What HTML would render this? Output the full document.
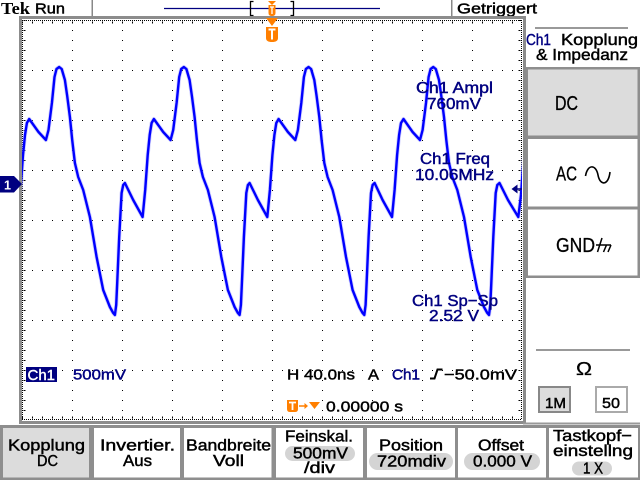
<!DOCTYPE html>
<html><head><meta charset="utf-8"><style>
html,body{margin:0;padding:0;background:#fff;}
svg{display:block;}
text{font-family:"Liberation Sans",sans-serif;}
</style></head><body>
<svg width="640" height="480" viewBox="0 0 640 480" xmlns="http://www.w3.org/2000/svg">
<rect width="640" height="480" fill="#fff"/>
<defs>
<clipPath id="c"><rect x="22" y="20" width="500" height="400"/></clipPath>
<path id="tr" d="M8.5,200 L17.9,217 L20.5,190 L23,155 L25,135 L26.9,123 L29.2,119 L38.5,132 L45.9,140 L48.5,130 L51.9,103 L54.5,77 L56.5,69 L59.2,67 L61.7,69 L64.9,80 L67.2,96 L69.9,117 L72.2,140 L74.9,163 L78.2,177 L83.2,190 L89.9,217 L96.6,257 L103.2,290 L109.9,307 L113.2,313 L114.9,315 L116.2,305 L117.2,283 L119.2,237 L121.6,193 L123.2,185 L124.9,183 L133.2,200 L142.6,217 L145.2,190 L147.7,155 L149.7,135 L151.6,123 L153.9,119 L163.2,132 L170.6,140 L173.2,130 L176.6,103 L179.2,77 L181.2,69 L183.9,67 L186.4,69 L189.6,80 L191.9,96 L194.6,117 L196.9,140 L199.6,163 L202.9,177 L207.9,190 L214.6,217 L221.3,257 L227.9,290 L234.6,307 L237.9,313 L239.6,315 L240.9,305 L241.9,283 L243.9,237 L246.3,193 L247.9,185 L249.6,183 L257.9,200 L267.3,217 L269.9,190 L272.4,155 L274.4,135 L276.3,123 L278.6,119 L287.9,132 L295.3,140 L297.9,130 L301.3,103 L303.9,77 L305.9,69 L308.6,67 L311.1,69 L314.3,80 L316.6,96 L319.3,117 L321.6,140 L324.3,163 L327.6,177 L332.6,190 L339.3,217 L346,257 L352.6,290 L359.3,307 L362.6,313 L364.3,315 L365.6,305 L366.6,283 L368.6,237 L371,193 L372.6,185 L374.6,183 L382.6,200 L392,217 L394.6,190 L397.1,155 L399.1,135 L401,123 L403.5,119 L412.6,132 L420,140 L422.6,130 L426,103 L428.6,77 L430.6,69 L433.3,67 L435.8,69 L439,80 L441.3,96 L444,117 L446.3,140 L449,163 L452.3,177 L457.3,190 L464,217 L470.7,257 L477.3,290 L484,307 L487.3,313 L489,315 L490.3,305 L491.3,283 L493.3,237 L495.7,193 L497.3,185 L499.5,183 L508,200 L518.3,217 L521,195 L523.5,160 L526,135"/>
</defs>

<!-- top bar -->
<text x="1" y="14" style="font-family:'Liberation Serif',serif;font-weight:bold;font-size:17px" textLength="29" lengthAdjust="spacingAndGlyphs">Tek</text>
<g stroke="#000" stroke-width="0.45">
<text x="35" y="13.5" font-size="15" textLength="30" lengthAdjust="spacingAndGlyphs">Run</text>
<text x="457" y="13.5" font-size="15" textLength="80" lengthAdjust="spacingAndGlyphs">Getriggert</text>
</g>
<rect x="91.5" y="0" width="1.5" height="16" fill="#888"/>
<rect x="451" y="0" width="1.5" height="16" fill="#888"/>
<line x1="164" y1="8.5" x2="380" y2="8.5" stroke="#000080" stroke-width="1.2"/>
<path d="M253.5,1.5 H250.5 V15.5 H253.5" fill="none" stroke="#000" stroke-width="1.3"/>
<path d="M290.5,1.5 H293.5 V15.5 H290.5" fill="none" stroke="#000" stroke-width="1.3"/>
<polygon points="268,1 276,1 272,5" fill="#ff7f00"/>
<path d="M268.5,5 H275.5 V13 Q275.5,16 272,16 Q268.5,16 268.5,13 Z" fill="#ff7f00"/>
<path d="M270,7 H274 M272,7 V14" stroke="#fff" stroke-width="1.3" fill="none"/>

<!-- graticule frame -->
<rect x="19" y="16" width="507" height="3" fill="#8c8c8c"/>
<rect x="19" y="16" width="3" height="408" fill="#8c8c8c"/>
<rect x="523" y="16" width="3" height="408" fill="#8c8c8c"/>
<rect x="19" y="421" width="507" height="3" fill="#8c8c8c"/>
<g stroke="#000" fill="none">
<line x1="22" y1="20.5" x2="522" y2="20.5" stroke-dasharray="1 1"/>
<line x1="22" y1="419.5" x2="522" y2="419.5" stroke-dasharray="1 1"/>
<line x1="22.5" y1="20" x2="22.5" y2="420" stroke-dasharray="1 1"/>
<line x1="521.5" y1="20" x2="521.5" y2="420" stroke-dasharray="1 1"/>
<line x1="22" y1="22.5" x2="522" y2="22.5" stroke-width="2" stroke-dasharray="1 9"/>
<line x1="22" y1="417.5" x2="522" y2="417.5" stroke-width="2" stroke-dasharray="1 9"/>
<line x1="24.5" y1="20" x2="24.5" y2="420" stroke-width="2" stroke-dasharray="1 9"/>
<line x1="519.5" y1="20" x2="519.5" y2="420" stroke-width="2" stroke-dasharray="1 9"/>
<g stroke-dasharray="1 9">
<line x1="72.5" y1="20" x2="72.5" y2="420"/>
<line x1="122.5" y1="20" x2="122.5" y2="420"/>
<line x1="172.5" y1="20" x2="172.5" y2="420"/>
<line x1="222.5" y1="20" x2="222.5" y2="420"/>
<line x1="272.5" y1="20" x2="272.5" y2="420"/>
<line x1="322.5" y1="20" x2="322.5" y2="420"/>
<line x1="372.5" y1="20" x2="372.5" y2="420"/>
<line x1="422.5" y1="20" x2="422.5" y2="420"/>
<line x1="472.5" y1="20" x2="472.5" y2="420"/>
<line x1="22" y1="70.5" x2="522" y2="70.5"/>
<line x1="22" y1="120.5" x2="522" y2="120.5"/>
<line x1="22" y1="170.5" x2="522" y2="170.5"/>
<line x1="22" y1="220.5" x2="522" y2="220.5"/>
<line x1="22" y1="270.5" x2="522" y2="270.5"/>
<line x1="22" y1="320.5" x2="522" y2="320.5"/>
<line x1="22" y1="370.5" x2="522" y2="370.5"/>
</g>
</g>

<!-- trigger marker in graticule -->
<polygon points="266,18 278,18 272,26" fill="#ff7f00"/>
<path d="M266,27 H278 V38 Q278,42 272,42 Q266,42 266,38 Z" fill="#ff7f00"/>
<path d="M268.5,29.5 H275.5 M272,29.5 V39.5" stroke="#fff" stroke-width="2" fill="none"/>

<!-- trace -->
<g clip-path="url(#c)" fill="none" stroke-linejoin="round" stroke-linecap="round">
<use href="#tr" stroke="#9a9aff" stroke-width="4" opacity="0.45"/>
<use href="#tr" stroke="#0000ff" stroke-width="2.4"/>
</g>

<!-- ch1 ground marker -->
<path d="M0,176 H14 L22,184 L14,192.5 H0 Z" fill="#000080"/>
<text x="4" y="189.5" fill="#fff" font-size="13" font-weight="bold" textLength="7" lengthAdjust="spacingAndGlyphs">1</text>
<!-- trigger level marker -->
<polygon points="511.5,189 517.5,184.5 517.5,193.5" fill="#000080"/>
<line x1="517" y1="189" x2="522" y2="189" stroke="#000080" stroke-width="1.5"/>

<!-- measurements -->
<g fill="#000080" stroke="#000080" stroke-width="0.45" font-size="16">
<text x="416" y="93" textLength="77" lengthAdjust="spacingAndGlyphs">Ch1 Ampl</text>
<text x="427" y="109" textLength="54" lengthAdjust="spacingAndGlyphs">760mV</text>
<text x="420" y="164" textLength="70" lengthAdjust="spacingAndGlyphs">Ch1 Freq</text>
<text x="415" y="180" textLength="79" lengthAdjust="spacingAndGlyphs">10.06MHz</text>
<text x="412" y="306" textLength="86" lengthAdjust="spacingAndGlyphs">Ch1 Sp−Sp</text>
<text x="429" y="321" textLength="50" lengthAdjust="spacingAndGlyphs">2.52 V</text>
</g>

<!-- status line -->
<rect x="26" y="367" width="31" height="15" fill="#000080"/>
<text x="27.5" y="380" fill="#fff" stroke="#fff" stroke-width="0.4" font-size="15" textLength="27.5" lengthAdjust="spacingAndGlyphs">Ch1</text>
<g font-size="15" stroke-width="0.45">
<text x="73" y="379.5" fill="#000080" stroke="#000080" textLength="53" lengthAdjust="spacingAndGlyphs">500mV</text>
<text x="287" y="379.5" stroke="#000" textLength="68" lengthAdjust="spacingAndGlyphs">H 40.0ns</text>
<text x="368" y="379.5" stroke="#000" textLength="11" lengthAdjust="spacingAndGlyphs">A</text>
<text x="392" y="379.5" fill="#000080" stroke="#000080" textLength="28" lengthAdjust="spacingAndGlyphs">Ch1</text>
<text x="444" y="379.5" stroke="#000" textLength="73" lengthAdjust="spacingAndGlyphs">−50.0mV</text>
<text x="326" y="411.5" stroke="#000" textLength="77" lengthAdjust="spacingAndGlyphs">0.00000 s</text>
</g>
<path d="M430,378.5 H434.5 L437.5,369.5 H442.5" stroke="#000" stroke-width="2" fill="none"/>

<path d="M287,400 H298 V409 Q298,412 295,412 H290 Q287,412 287,409 Z" fill="#ff7f00"/>
<path d="M289,402.5 H296 M292.5,402.5 V410" stroke="#fff" stroke-width="1.8" fill="none"/>
<line x1="299" y1="406" x2="305" y2="406" stroke="#ff7f00" stroke-width="1.5"/>
<polygon points="304.5,403 308,406 304.5,409" fill="#ff7f00"/>
<polygon points="309,402 320,402 314.5,409" fill="#ff7f00"/>

<!-- right panel -->
<rect x="535" y="27" width="93" height="2" fill="#999"/>
<g font-size="16" stroke-width="0.45">
<text x="526" y="45" fill="#000080" stroke="#000080" textLength="25" lengthAdjust="spacingAndGlyphs">Ch1</text>
<text x="561" y="45" stroke="#000" textLength="77" lengthAdjust="spacingAndGlyphs">Kopplung</text>
<text x="536" y="60" stroke="#000" textLength="92" lengthAdjust="spacingAndGlyphs">&amp; Impedanz</text>
</g>

<rect x="526" y="67" width="114" height="211" fill="#8e8e8e"/>
<rect x="528" y="69.5" width="109.5" height="66" fill="#dcdcdc"/>
<rect x="528" y="139" width="109.5" height="67.5" fill="#fff"/>
<rect x="528" y="209.5" width="109.5" height="66" fill="#fff"/>
<g font-size="20" stroke="#000" stroke-width="0.3">
<text x="555" y="110" textLength="23" lengthAdjust="spacingAndGlyphs">DC</text>
<text x="556" y="180.5" textLength="21" lengthAdjust="spacingAndGlyphs">AC</text>
<text x="556" y="252" textLength="39" lengthAdjust="spacingAndGlyphs">GND</text>
</g>
<path d="M585.5,176 C587.5,164 596,164 598,175 C600,186 608.5,186 610,172" stroke="#000" stroke-width="1.6" fill="none"/>
<path d="M602,238 L597.5,252 M596,245 H611 M606.5,245 L603.5,252 M611,245 L608,252" stroke="#000" stroke-width="1.5" fill="none"/>

<rect x="536" y="349" width="94" height="2" fill="#999"/>
<text x="576" y="375" font-size="18" stroke="#000" stroke-width="0.3" textLength="16" lengthAdjust="spacingAndGlyphs">Ω</text>
<rect x="539" y="387" width="31" height="25" fill="#dcdcdc" stroke="#888" stroke-width="2"/>
<rect x="596" y="387" width="31" height="25" fill="#fff" stroke="#aaa" stroke-width="2"/>
<g font-size="15" stroke="#000" stroke-width="0.45">
<text x="545" y="408" textLength="21" lengthAdjust="spacingAndGlyphs">1M</text>
<text x="602" y="408" textLength="18" lengthAdjust="spacingAndGlyphs">50</text>
</g>
<rect x="523" y="422.5" width="117" height="2" fill="#999"/>

<!-- bottom buttons -->
<rect x="0" y="425" width="640" height="55" fill="#8e8e8e"/>
<rect x="3" y="428" width="86" height="49.5" fill="#dcdcdc"/>
<rect x="94" y="428" width="86" height="49.5" fill="#fff"/>
<rect x="184" y="428" width="87.5" height="49.5" fill="#fff"/>
<rect x="276" y="428" width="87" height="49.5" fill="#fff"/>
<rect x="367" y="428" width="88" height="49.5" fill="#fff"/>
<rect x="458" y="428" width="88" height="49.5" fill="#fff"/>
<rect x="549" y="428" width="89" height="49.5" fill="#fff"/>

<rect x="285" y="446" width="70" height="15" rx="7.5" fill="#d4d4d4"/>
<rect x="369" y="453" width="84" height="17" rx="8.5" fill="#d4d4d4"/>
<rect x="464" y="453" width="76" height="17" rx="8.5" fill="#d4d4d4"/>
<rect x="572" y="461.5" width="40" height="14" rx="7" fill="#d4d4d4"/>

<g font-size="16" stroke="#000" stroke-width="0.45">
<text x="8" y="450.5" textLength="77" lengthAdjust="spacingAndGlyphs">Kopplung</text>
<text x="37" y="466" textLength="21" lengthAdjust="spacingAndGlyphs">DC</text>
<text x="100" y="450.5" textLength="75" lengthAdjust="spacingAndGlyphs">Invertier.</text>
<text x="123" y="466" textLength="29" lengthAdjust="spacingAndGlyphs">Aus</text>
<text x="186" y="450.5" textLength="85" lengthAdjust="spacingAndGlyphs">Bandbreite</text>
<text x="213" y="466" textLength="31" lengthAdjust="spacingAndGlyphs">Voll</text>
<text x="285" y="441.5" textLength="68" lengthAdjust="spacingAndGlyphs">Feinskal.</text>
<text x="293" y="458.5" textLength="55" lengthAdjust="spacingAndGlyphs">500mV</text>
<text x="304" y="473" textLength="31" lengthAdjust="spacingAndGlyphs">/div</text>
<text x="379" y="450.5" textLength="64" lengthAdjust="spacingAndGlyphs">Position</text>
<text x="377" y="466.5" textLength="69" lengthAdjust="spacingAndGlyphs">720mdiv</text>
<text x="478" y="450.5" textLength="46" lengthAdjust="spacingAndGlyphs">Offset</text>
<text x="473" y="466.5" textLength="59" lengthAdjust="spacingAndGlyphs">0.000 V</text>
<text x="553" y="441" textLength="79" lengthAdjust="spacingAndGlyphs">Tastkopf−</text>
<text x="553" y="456" textLength="80" lengthAdjust="spacingAndGlyphs">einstellng</text>
<text x="583" y="473.5" textLength="20" lengthAdjust="spacingAndGlyphs">1 X</text>
</g>
</svg>
</body></html>
